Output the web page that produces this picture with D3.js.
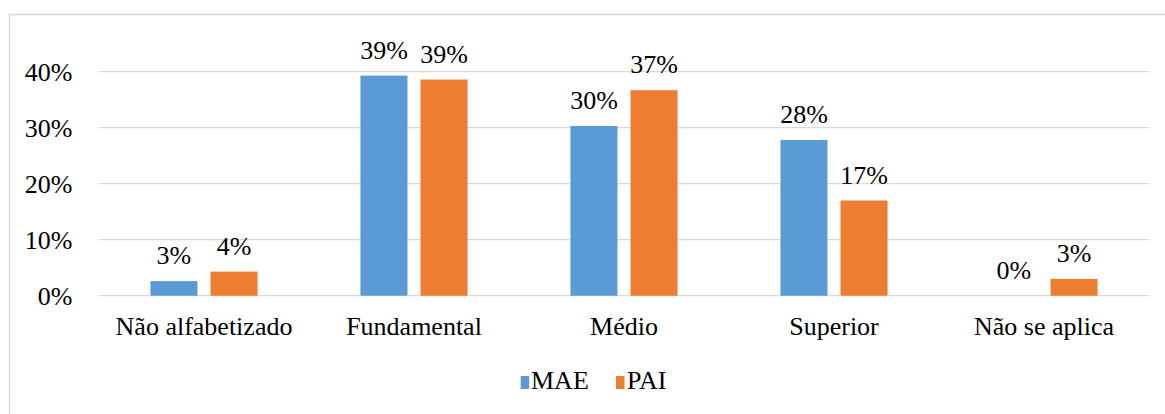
<!DOCTYPE html>
<html>
<head>
<meta charset="utf-8">
<script src="https://cdn.jsdelivr.net/npm/d3@7"></script>
<style>
  html, body { margin: 0; padding: 0; background: #fff; }
  svg { display: block; }
</style>
</head>
<body>
<svg id="chart" width="1165" height="414"></svg>
<script>
const categories = ["Não alfabetizado", "Fundamental", "Médio", "Superior", "Não se aplica"];
const seriesNames = ["MAE", "PAI"];
const maeValues = [2.6, 39.3, 30.3, 27.8, 0];
const paiValues = [4.3, 38.6, 36.7, 17.0, 3.0];
const maeLabels = ["3%", "39%", "30%", "28%", "0%"];
const paiLabels = ["4%", "39%", "37%", "17%", "3%"];
const yTicks = [0, 10, 20, 30, 40];
const colors = ["#5B9BD5", "#ED7D31"];

const svg = d3.select("#chart");
const W = 1165, H = 414;
const plotLeft = 99, plotRight = 1149, plotBottom = 295.7;
const FONT = '"Liberation Serif", "Times New Roman", serif';
const fontSize = "26px";

function styleText(sel) {
  return sel.style("font-family", FONT).style("font-size", fontSize).style("fill", "#000");
}

// outer border
svg.append("rect")
  .attr("x", 9.5).attr("y", 14.5)
  .attr("width", W + 10).attr("height", H + 10)
  .attr("fill", "none").attr("stroke", "#d9d9d9").attr("stroke-width", 1.5);

const y = d3.scaleLinear().domain([0, 40]).range([plotBottom, plotBottom - 224]);
const x0 = d3.scaleBand().domain(categories).range([plotLeft, plotRight]).paddingInner(0.49).paddingOuter(0.245);
const x1 = d3.scaleBand().domain(seriesNames).range([0, x0.bandwidth()]).paddingInner(0.217);

// gridlines
svg.append("g").selectAll("line").data(yTicks).join("line")
  .attr("x1", plotLeft).attr("x2", plotRight)
  .attr("y1", d => y(d)).attr("y2", d => y(d))
  .attr("stroke", "#d9d9d9").attr("stroke-width", 1.3);

// y axis labels
const yAxis = d3.axisLeft(y).tickValues(yTicks).tickFormat(d => d + "%").tickSize(0).tickPadding(0);
const yg = svg.append("g").attr("transform", "translate(72.5,0)").call(yAxis);
yg.select(".domain").remove();
styleText(yg.selectAll("text")).attr("dy", "0.32em");

// x axis labels
const xAxis = d3.axisBottom(x0).tickSize(0).tickPadding(0);
const xg = svg.append("g").attr("transform", `translate(0,${plotBottom})`).call(xAxis);
xg.select(".domain").remove();
styleText(xg.selectAll("text")).attr("dy", null).attr("y", 39.3);

const data = categories.map((c, i) => ({
  cat: c,
  vals: [
    { s: "MAE", v: maeValues[i], label: maeLabels[i] },
    { s: "PAI", v: paiValues[i], label: paiLabels[i] }
  ]
}));

const groups = svg.append("g").selectAll("g").data(data).join("g")
  .attr("transform", d => `translate(${x0(d.cat)},0)`);

groups.selectAll("rect").data(d => d.vals).join("rect")
  .attr("x", d => x1(d.s))
  .attr("y", d => y(d.v))
  .attr("width", x1.bandwidth())
  .attr("height", d => plotBottom - y(d.v))
  .attr("fill", d => colors[seriesNames.indexOf(d.s)]);

styleText(groups.selectAll("text.val").data(d => d.vals).join("text")
  .attr("class", "val")
  .attr("x", d => x1(d.s) + x1.bandwidth() / 2)
  .attr("y", d => y(d.v) - 17)
  .attr("text-anchor", "middle")
  .text(d => d.label));

// legend
const legend = svg.append("g");
const legendItems = [
  { name: seriesNames[0], color: colors[0], sx: 520.7, tx: 531 },
  { name: seriesNames[1], color: colors[1], sx: 616, tx: 627 }
];
legend.selectAll("rect").data(legendItems).join("rect")
  .attr("x", d => d.sx).attr("y", 376).attr("width", 8.5).attr("height", 13)
  .attr("fill", d => d.color);
styleText(legend.selectAll("text").data(legendItems).join("text")
  .attr("x", d => d.tx).attr("y", 389)
  .text(d => d.name));
</script>
</body>
</html>
